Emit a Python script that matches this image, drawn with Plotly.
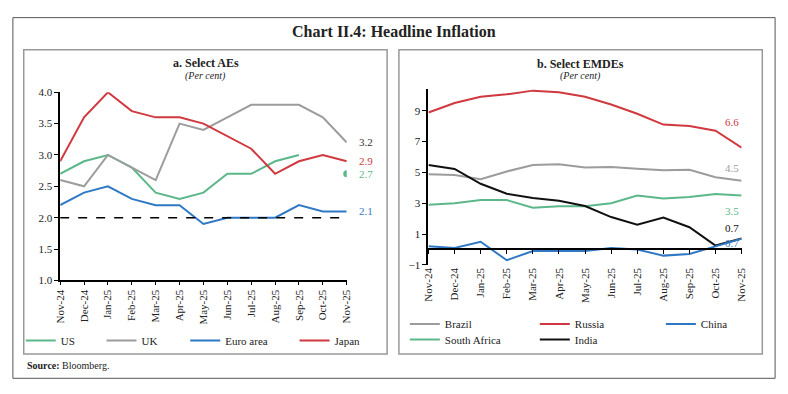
import plotly.graph_objects as go

W, H = 788, 394
FONT = "Liberation Serif"

months = ["Nov-24", "Dec-24", "Jan-25", "Feb-25", "Mar-25", "Apr-25", "May-25",
          "Jun-25", "Jul-25", "Aug-25", "Sep-25", "Oct-25", "Nov-25"]

# Panel a: Select AEs
us = [2.7, 2.9, 3.0, 2.8, 2.4, 2.3, 2.4, 2.7, 2.7, 2.9, 3.0, None, 2.7]
uk = [2.6, 2.5, 3.0, 2.8, 2.6, 3.5, 3.4, 3.6, 3.8, 3.8, 3.8, 3.6, 3.2]
euro = [2.2, 2.4, 2.5, 2.3, 2.2, 2.2, 1.9, 2.0, 2.0, 2.0, 2.2, 2.1, 2.1]
japan = [2.9, 3.6, 4.0, 3.7, 3.6, 3.6, 3.5, 3.3, 3.1, 2.7, 2.9, 3.0, 2.9]
target = 2.0

# Panel b: Select EMDEs
brazil = [4.87, 4.83, 4.56, 5.06, 5.48, 5.53, 5.32, 5.35, 5.23, 5.13, 5.17, 4.68, 4.46]
russia = [8.88, 9.5, 9.9, 10.06, 10.3, 10.2, 9.9, 9.4, 8.8, 8.1, 8.0, 7.7, 6.6]
china = [0.2, 0.1, 0.5, -0.7, -0.1, -0.1, -0.1, 0.1, 0.0, -0.4, -0.3, 0.2, 0.7]
safrica = [2.9, 3.0, 3.2, 3.2, 2.7, 2.8, 2.8, 3.0, 3.5, 3.3, 3.4, 3.6, 3.5]
india = [5.48, 5.22, 4.26, 3.61, 3.34, 3.16, 2.82, 2.10, 1.61, 2.07, 1.44, 0.25, 0.71]

GREEN = "#5cb88a"
GRAY = "#9c9c9c"
BLUE = "#2f78c4"
RED = "#d0393f"
BLACK = "#111111"


def px(x):
    return x / W


def py(y):
    return 1 - y / H


fig = go.Figure()

# ---------- Panel a ----------
a_series = [("US", us, GREEN, "legend"), ("UK", uk, GRAY, "legend2"),
            ("Euro area", euro, BLUE, "legend3"), ("Japan", japan, RED, "legend4")]
for name, vals, col, lg in a_series:
    fig.add_trace(go.Scatter(x=months, y=vals, name=name, mode="lines",
                             line=dict(color=col, width=2), connectgaps=False,
                             xaxis="x", yaxis="y", legend=lg, hoverinfo="skip"))
# isolated US point for latest month
fig.add_trace(go.Scatter(x=[months[-1]], y=[us[-1]], mode="markers",
                         marker=dict(color=GREEN, size=7), showlegend=False,
                         xaxis="x", yaxis="y", hoverinfo="skip"))

# ---------- Panel b ----------
b_series = [("Brazil", brazil, GRAY, "legend5", "x2"), ("Russia", russia, RED, "legend6", "x2"),
            ("China", china, BLUE, "legend7", "x3"), ("South Africa", safrica, GREEN, "legend8", "x2"),
            ("India", india, BLACK, "legend9", "x2")]
for name, vals, col, lg, xa in b_series:
    fig.add_trace(go.Scatter(x=months, y=vals, name=name, mode="lines",
                             line=dict(color=col, width=2),
                             xaxis=xa, yaxis="y2", legend=lg, hoverinfo="skip"))

tickfont = dict(family=FONT, size=11, color="#222")

fig.update_layout(
    width=W, height=H, margin=dict(l=0, r=0, t=0, b=0),
    paper_bgcolor="white", plot_bgcolor="rgba(0,0,0,0)",
    font=dict(family=FONT, color="#222"),
    xaxis=dict(domain=[px(55), px(346)], anchor="y", type="category",
               range=[0, 12], tickangle=-90, tickfont=tickfont,
               showline=True, linecolor="black", linewidth=2,
               ticks="outside", ticklen=3, tickcolor="black", showgrid=False),
    yaxis=dict(domain=[py(283), py(89)], anchor="x", range=[1.0, 4.0], dtick=0.5,
               tickformat=".1f", tickfont=tickfont, showline=True, linecolor="black",
               linewidth=1.5, ticks="outside", ticklen=4, tickcolor="black",
               showgrid=False, zeroline=False),
    xaxis2=dict(domain=[px(429), px(747)], anchor="y2", type="category",
                range=[0, 12], tickangle=-90, tickfont=tickfont, showline=False,
                ticks="", showgrid=False),
    xaxis3=dict(overlaying="x2", matches="x2", anchor="free", type="category",
                position=py(267) + (py(85.7) - py(267)) * (1 / 11.4),
                showline=True, linecolor="black", linewidth=2, ticks="outside",
                ticklen=4, tickcolor="black", showticklabels=False, showgrid=False),
    yaxis2=dict(domain=[py(267), py(85.7)], anchor="x2", range=[-1, 10.4],
                tickvals=[-1, 1, 3, 5, 7, 9], tickfont=tickfont, showline=True,
                linecolor="black", linewidth=2, ticks="outside", ticklen=4,
                tickcolor="black", showgrid=False, zeroline=False),
    showlegend=True,
)

# legends (one per entry so each sits where the original places it)
leg_pos = {
    "legend": (15, 345), "legend2": (97, 345), "legend3": (182, 345), "legend4": (293, 345),
    "legend5": (405, 328), "legend6": (537, 328), "legend7": (665, 328),
    "legend8": (405, 344), "legend9": (537, 344),
}
for k, (lx, ly) in leg_pos.items():
    fig.update_layout({k: dict(x=px(lx), y=py(ly), xanchor="left", yanchor="middle",
                               orientation="h", bgcolor="rgba(0,0,0,0)",
                               font=dict(family=FONT, size=11, color="#222"),
                               itemwidth=30, tracegroupgap=0)})

shapes = [
    dict(type="rect", xref="paper", yref="paper", x0=px(7), x1=px(781), y0=py(384), y1=py(12),
         line=dict(color="#555", width=1)),
    dict(type="rect", xref="paper", yref="paper", x0=px(18), x1=px(387), y0=py(359), y1=py(45),
         line=dict(color="#999", width=1.5)),
    dict(type="rect", xref="paper", yref="paper", x0=px(399), x1=px(768), y0=py(359), y1=py(45),
         line=dict(color="#999", width=1.5)),
    dict(type="line", xref="x", yref="y", x0=0, x1=12, y0=target, y1=target,
         line=dict(color="black", width=1.5, dash="dash")),
]
fig.update_layout(shapes=shapes)

ann = [
    dict(text="<b>Chart II.4: Headline Inflation</b>", x=px(394), y=py(26),
         font=dict(size=16, color="#222")),
    dict(text="<b>a. Select AEs</b>", x=px(203), y=py(59), font=dict(size=12, color="#222")),
    dict(text="<i>(Per cent)</i>", x=px(203), y=py(72), font=dict(size=10, color="#222")),
    dict(text="<b>b. Select EMDEs</b>", x=px(583), y=py(60), font=dict(size=12, color="#222")),
    dict(text="<i>(Per cent)</i>", x=px(583), y=py(72), font=dict(size=10, color="#222")),
    dict(text="<b>Source:</b> Bloomberg.", x=px(19), y=py(371), xanchor="left",
         font=dict(size=10, color="#222")),
]
for a in ann:
    a.update(xref="paper", yref="paper", showarrow=False)
    a.setdefault("xanchor", "center")
    a["yanchor"] = "middle"
    a["font"]["family"] = FONT

# end-of-series value labels
end_a = [(uk[-1], "#333", 0), (japan[-1], RED, 0), (us[-1], GREEN, 0), (euro[-1], BLUE, 0)]
for v, c, ys in end_a:
    ann.append(dict(text=f"{v:.1f}", x=months[-1], y=v, xref="x", yref="y", xshift=19,
                    yshift=ys, showarrow=False, font=dict(family=FONT, size=11, color=c)))
end_b = [(russia[-1], RED, 26), (brazil[-1], GRAY, 13), (safrica[-1], GREEN, -16),
         (india[-1], BLACK, 10), (china[-1], BLUE, -4)]
for v, c, ys in end_b:
    ann.append(dict(text=f"{v:.1f}", x=months[-1], y=v, xref="x2", yref="y2", xshift=-10,
                    yshift=ys, showarrow=False, font=dict(family=FONT, size=11, color=c)))
fig.update_layout(annotations=ann)

fig.write_html("out.html", config={"displayModeBar": False},
               post_script="document.body.style.margin='0';document.body.style.overflow='hidden';")
